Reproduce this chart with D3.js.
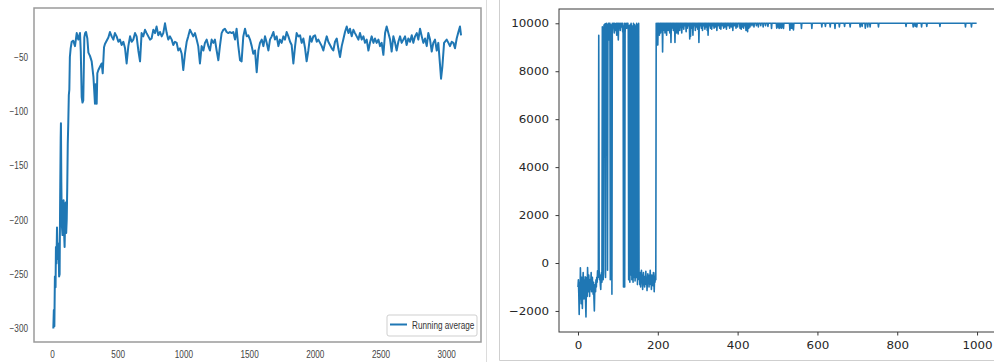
<!DOCTYPE html>
<html>
<head>
<meta charset="utf-8">
<script src="https://cdn.jsdelivr.net/npm/d3@7"></script>
<style>
  html, body { margin: 0; padding: 0; background: #fff; }
  svg { display: block; }
</style>
</head>
<body>
<svg id="chart" width="994" height="362"></svg>
<script>
// ---- Left panel: running average of episode reward, [episode, value] ----
const runningAverage = [
  [10,-300],[14,-283],[18,-298],[22,-252],[27,-262],[30,-225],[34,-240],[38,-207],[42,-228],[46,-236],
  [50,-222],[54,-252],[58,-250],[62,-180],[66,-125],[68,-111],[71,-165],[75,-205],[80,-214],[84,-208],
  [88,-182],[92,-212],[96,-225],[100,-200],[104,-184],[108,-212],[112,-200],[116,-170],[120,-130],[124,-110],
  [128,-85],[132,-80],[136,-50],[142,-42],[150,-36],[162,-35],[175,-40],[188,-28],[200,-34],[213,-28],
  [219,-45],[226,-87],[232,-92],[238,-90],[246,-32],[252,-28],[259,-27],[269,-33],[277,-46],[289,-49],
  [302,-54],[315,-68],[321,-80],[327,-93],[331,-75],[335,-80],[340,-93],[345,-65],[353,-62],[365,-59],
  [378,-56],[386,-65],[396,-41],[403,-38],[416,-35],[429,-32],[441,-27],[454,-31],[467,-34],[479,-28],
  [492,-31],[505,-36],[517,-34],[530,-39],[543,-36],[556,-42],[568,-56],[581,-40],[594,-31],[606,-36],
  [619,-34],[632,-28],[644,-31],[657,-44],[670,-54],[682,-28],[695,-31],[708,-25],[720,-28],[733,-31],
  [746,-34],[758,-33],[771,-25],[784,-28],[796,-22],[809,-30],[822,-27],[835,-31],[847,-28],[860,-19],
  [873,-28],[885,-34],[898,-31],[911,-34],[923,-39],[936,-36],[949,-37],[961,-44],[974,-42],[987,-47],
  [999,-62],[1012,-47],[1025,-36],[1037,-31],[1050,-25],[1063,-28],[1075,-31],[1088,-28],[1101,-34],[1113,-40],
  [1126,-56],[1139,-40],[1152,-44],[1164,-37],[1177,-34],[1190,-40],[1202,-44],[1215,-34],[1228,-37],[1240,-34],
  [1253,-44],[1266,-53],[1278,-40],[1291,-28],[1304,-25],[1316,-24],[1329,-27],[1342,-28],[1354,-27],[1367,-28],
  [1380,-27],[1393,-34],[1405,-24],[1418,-40],[1431,-53],[1443,-54],[1456,-31],[1469,-24],[1482,-31],[1494,-30],
  [1507,-34],[1520,-40],[1532,-47],[1545,-44],[1558,-64],[1571,-44],[1583,-37],[1596,-34],[1609,-40],[1621,-31],
  [1634,-37],[1647,-44],[1659,-34],[1672,-31],[1685,-27],[1697,-34],[1710,-31],[1723,-40],[1735,-34],[1748,-37],
  [1761,-31],[1773,-34],[1786,-27],[1799,-31],[1812,-36],[1824,-39],[1837,-56],[1850,-40],[1862,-28],[1875,-31],
  [1888,-30],[1900,-37],[1913,-33],[1926,-42],[1938,-54],[1951,-44],[1964,-31],[1976,-36],[1989,-31],[2002,-30],
  [2015,-36],[2027,-34],[2040,-37],[2053,-40],[2065,-44],[2078,-37],[2091,-31],[2103,-36],[2116,-39],[2129,-42],
  [2141,-44],[2154,-36],[2167,-33],[2179,-42],[2192,-50],[2205,-40],[2217,-34],[2230,-27],[2243,-22],[2256,-28],
  [2268,-24],[2281,-31],[2294,-25],[2306,-28],[2319,-31],[2332,-34],[2344,-28],[2357,-34],[2370,-31],[2382,-37],
  [2395,-34],[2408,-44],[2420,-37],[2433,-31],[2446,-37],[2458,-33],[2471,-37],[2484,-34],[2497,-40],[2509,-37],
  [2522,-48],[2535,-28],[2547,-22],[2560,-28],[2573,-34],[2585,-45],[2598,-31],[2611,-37],[2623,-44],[2636,-36],
  [2649,-31],[2661,-37],[2674,-34],[2687,-31],[2699,-39],[2712,-33],[2725,-36],[2738,-30],[2750,-37],[2763,-31],
  [2776,-28],[2788,-34],[2801,-24],[2814,-31],[2826,-37],[2839,-33],[2852,-40],[2864,-28],[2877,-34],[2890,-45],
  [2902,-37],[2915,-34],[2928,-44],[2940,-37],[2953,-57],[2961,-70],[2971,-59],[2984,-37],[3004,-34],[3017,-37],
  [3029,-40],[3042,-36],[3055,-37],[3067,-42],[3080,-33],[3093,-27],[3105,-22],[3113,-30]
];
const leftXTicks = [0, 500, 1000, 1500, 2000, 2500, 3000];
const leftYTicks = [-300, -250, -200, -150, -100, -50];
const legendLabel = "Running average";

// ---- Right panel: reward per episode (episodes 0..999) ----
const episodeReward = [
  // 0
  -1000,-700,-1300,-2150,-800,-1500,-200,-900,-1700,-600,-1200,-1900,-800,-400,-1100,-1500,-700,-1250,-580,-1600,
  // 20
  -2250,-1000,-600,-1400,-190,-800,-1200,-500,-900,-1400,-700,-1100,-800,-400,-1200,-900,-600,-1000,-1300,-800,
  // 40
  -1500,-2000,-1100,-900,-1200,-700,-1000,-600,-800,-320,-600,-400,9500,-300,-700,-500,-900,-1100,-600,-400,
  // 60
  -800,9850,-500,-700,-400,9900,9950,9700,9980,-600,9900,10000,9600,9950,-300,9800,10000,9300,10000,9900,
  // 80
  10000,-700,9950,9700,9900,-1300,10000,9950,9900,10000,9800,9600,10000,9950,9700,9900,10000,9500,9850,10000,
  // 100
  9900,9300,10000,9800,9950,10000,9700,9900,10000,9850,9950,10000,9640,9900,-1000,9700,10000,-1000,9600,9900,
  // 120
  10000,9950,9800,10000,9900,10000,9700,-700,9900,-600,-800,9950,-500,10000,9800,-700,-450,9900,-800,10000,
  // 140
  -600,9700,9950,-750,-400,9900,-600,10000,9800,-900,9950,-500,10000,-700,-600,-900,-400,-1000,-700,-300,
  // 160
  -800,-500,-1100,-650,-400,-900,-700,-1000,-550,-800,-350,-900,-600,-1150,-700,-450,-850,-600,-1000,-500,
  // 180
  -750,-300,-900,-650,-1100,-500,-800,-600,-950,-400,-700,-1200,-550,-800,-400,-700,10000,9900,9100,10000,
  // 200
  9100,10000,9800,10000,9500,9900,10000,9600,10000,9850,10000,10000,8800,10000,9700,10000,9900,10000,9600,10000,
  // 220
  9800,10000,9500,10000,9900,10000,9700,10000,9850,10000,9600,10000,10000,9200,10000,9800,10000,9900,10000,9700,
  // 240
  10000,9850,10000,9200,10000,9800,10000,9600,10000,9900,10000,9550,10000,9800,10000,9700,10000,10000,9900,10000,
  // 260
  9600,10000,9850,10000,10000,9750,10000,10000,9900,10000,10000,9650,10000,10000,9800,10000,10000,9900,10000,10000,
  // 280
  9350,10000,9450,10000,10000,9800,10000,10000,9500,10000,10000,9900,10000,10000,9700,10000,10000,9850,10000,10000,
  // 300
  9750,10000,10000,9200,10000,10000,9900,10000,10000,9800,10000,10000,9700,10000,10000,9900,10000,10000,9750,10000,
  // 320
  10000,9850,10000,10000,9700,10000,9500,10000,10000,9900,10000,10000,9800,10000,10000,9750,10000,10000,9900,10000,
  // 340
  10000,9800,10000,10000,9850,10000,10000,10000,9700,10000,10000,9900,10000,10000,10000,9800,10000,10000,9750,10000,
  // 360
  10000,10000,9900,10000,10000,9800,10000,10000,9850,10000,10000,10000,9750,10000,10000,10000,9900,10000,10000,10000,
  // 380
  9800,10000,10000,10000,9850,10000,10000,10000,9700,10000,10000,10000,9900,10000,10000,10000,9800,10000,10000,10000,
  // 400
  9850,10000,10000,10000,10000,10000,9800,10000,10000,9750,10000,10000,9850,10000,10000,9800,10000,10000,9900,10000,
  // 420
  10000,9700,10000,10000,10000,9650,10000,10000,9800,10000,10000,9850,10000,10000,10000,10000,9900,10000,10000,10000,
  // 440
  10000,9850,10000,10000,10000,10000,10000,9900,10000,10000,10000,10000,9850,10000,10000,10000,10000,10000,9900,10000,
  // 460
  10000,10000,10000,10000,9850,10000,10000,10000,10000,10000,9900,10000,10000,10000,10000,10000,9870,10000,10000,10000,
  // 480
  10000,10000,10000,10000,10000,9780,10000,10000,10000,10000,10000,10000,10000,10000,10000,10000,10000,10000,9800,10000,
  // 500
  10000,9850,10000,10000,9780,10000,10000,9820,10000,10000,9800,10000,10000,9850,10000,9780,10000,10000,10000,10000,
  // 520
  10000,10000,10000,10000,10000,10000,10000,10000,10000,10000,10000,9710,10000,10000,9800,10000,10000,9780,10000,10000,
  // 540
  9720,10000,10000,10000,10000,10000,10000,10000,10000,10000,10000,10000,10000,10000,10000,10000,10000,10000,10000,10000,
  // 560
  9780,10000,10000,10000,10000,10000,10000,10000,10000,10000,10000,10000,10000,10000,10000,10000,10000,10000,10000,10000,
  // 580
  10000,10000,10000,10000,10000,10000,9780,10000,10000,10000,10000,10000,10000,10000,10000,10000,10000,10000,10000,10000,
  // 600
  10000,10000,10000,10000,10000,10000,10000,10000,10000,10000,10000,9850,10000,10000,10000,10000,10000,10000,10000,10000,
  // 620
  9870,10000,10000,10000,10000,10000,10000,10000,10000,10000,10000,10000,9850,10000,10000,10000,10000,10000,10000,10000,
  // 640
  10000,10000,10000,10000,9780,10000,10000,10000,10000,10000,10000,10000,10000,10000,10000,9850,10000,10000,10000,10000,
  // 660
  10000,10000,10000,10000,10000,10000,10000,10000,9870,10000,10000,10000,10000,10000,10000,10000,10000,10000,10000,10000,
  // 680
  10000,10000,9850,10000,10000,10000,10000,10000,10000,10000,10000,10000,10000,10000,10000,10000,10000,10000,10000,10000,
  // 700
  10000,10000,10000,10000,10000,10000,10000,9850,10000,10000,10000,10000,9870,10000,10000,10000,10000,10000,10000,10000,
  // 720
  9800,10000,10000,10000,10000,10000,9850,10000,10000,10000,10000,10000,9850,10000,10000,10000,10000,10000,10000,10000,
  // 740
  10000,10000,10000,10000,10000,10000,10000,10000,10000,10000,10000,10000,10000,9850,10000,10000,10000,10000,10000,10000,
  // 760
  10000,10000,10000,10000,10000,10000,10000,10000,10000,10000,10000,10000,10000,10000,10000,10000,10000,10000,10000,10000,
  // 780
  10000,10000,10000,10000,10000,10000,10000,10000,10000,10000,10000,10000,10000,10000,10000,10000,10000,10000,10000,10000,
  // 800
  10000,10000,10000,10000,10000,10000,10000,10000,10000,10000,10000,10000,10000,10000,10000,10000,10000,10000,10000,10000,
  // 820
  10000,10000,9870,10000,10000,10000,10000,10000,10000,10000,10000,10000,10000,10000,10000,10000,10000,10000,10000,10000,
  // 840
  9850,10000,10000,10000,10000,9870,10000,10000,10000,9850,10000,10000,10000,10000,10000,10000,10000,10000,10000,10000,
  // 860
  10000,9850,10000,10000,10000,10000,10000,10000,10000,10000,10000,10000,10000,10000,9870,10000,10000,10000,10000,10000,
  // 880
  10000,10000,10000,10000,10000,10000,10000,10000,10000,10000,10000,10000,10000,10000,10000,10000,10000,10000,10000,10000,
  // 900
  10000,10000,10000,10000,10000,10000,10000,9870,10000,10000,10000,10000,10000,10000,10000,10000,10000,10000,10000,10000,
  // 920
  10000,10000,10000,10000,10000,10000,10000,10000,10000,10000,10000,10000,10000,10000,10000,10000,10000,10000,10000,10000,
  // 940
  10000,10000,10000,10000,10000,10000,10000,10000,10000,10000,10000,10000,10000,10000,10000,10000,10000,10000,10000,10000,
  // 960
  10000,10000,10000,10000,10000,10000,10000,10000,10000,10000,10000,9850,10000,10000,10000,10000,10000,10000,10000,10000,
  // 980
  10000,10000,10000,10000,10000,10000,9850,10000,10000,10000,10000,10000,10000,10000,10000,10000,10000,10000,10000,10000
];
const rightXTicks = [0, 200, 400, 600, 800, 1000];
const rightYTicks = [-2000, 0, 2000, 4000, 6000, 8000, 10000];

const blue = "#1f77b4";
const svg = d3.select("#chart");

// ---------------- left panel ----------------
const L = { left: 34, right: 481, top: 8, bottom: 342 };
const lx = d3.scaleLinear().domain([-137, 3265]).range([L.left, L.right]);
const ly = d3.scaleLinear().domain([-312.4, -4.9]).range([L.bottom, L.top]);
const squeeze = 0.82;
const leftFont = "'Liberation Sans', Arial, sans-serif";

const left = svg.append("g");

left.append("path")
  .datum(runningAverage)
  .attr("fill", "none")
  .attr("stroke", blue)
  .attr("stroke-width", 2)
  .attr("stroke-linejoin", "round")
  .attr("d", d3.line().x(d => lx(d[0])).y(d => ly(d[1])));

left.append("rect")
  .attr("x", L.left).attr("y", L.top)
  .attr("width", L.right - L.left).attr("height", L.bottom - L.top)
  .attr("fill", "none").attr("stroke", "#9a9a9a").attr("stroke-width", 1.5);

const lxAxis = left.append("g")
  .attr("transform", `translate(0,${L.bottom})`)
  .call(d3.axisBottom(lx).tickValues(leftXTicks).tickSize(0).tickPadding(9).tickFormat(d3.format("d")));
lxAxis.select(".domain").remove();
lxAxis.selectAll("text")
  .attr("font-family", leftFont).attr("font-size", 10).attr("fill", "#444")
  .attr("transform", `scale(${squeeze},1)`);

const lyAxis = left.append("g")
  .attr("transform", `translate(${L.left},0)`)
  .call(d3.axisLeft(ly).tickValues(leftYTicks).tickSize(0).tickFormat(d3.format("d")));
lyAxis.select(".domain").remove();
lyAxis.selectAll("text")
  .attr("font-family", leftFont).attr("font-size", 10).attr("fill", "#444")
  .attr("x", -6 / squeeze)
  .attr("transform", `scale(${squeeze},1)`);

// legend
const lg = left.append("g").attr("transform", "translate(387,315)");
lg.append("rect").attr("width", 90).attr("height", 21).attr("rx", 2)
  .attr("fill", "#fff").attr("stroke", "#cfcfcf").attr("stroke-width", 1);
lg.append("line").attr("x1", 3).attr("x2", 20).attr("y1", 9.5).attr("y2", 9.5)
  .attr("stroke", blue).attr("stroke-width", 2);
lg.append("text")
  .attr("transform", `translate(25,13.5) scale(${squeeze},1)`)
  .attr("font-family", leftFont).attr("font-size", 10).attr("fill", "#333")
  .text(legendLabel);

// panel separators
svg.append("line").attr("x1", 486.5).attr("x2", 486.5).attr("y1", 0).attr("y2", 362)
  .attr("stroke", "#dcdcdc").attr("stroke-width", 1);
svg.append("path").attr("d", "M499.5,0V360.5H994")
  .attr("fill", "none").attr("stroke", "#cfcfcf").attr("stroke-width", 1);

// ---------------- right panel ----------------
const R = { left: 559, right: 997, top: 9, bottom: 332 };
const rx = d3.scaleLinear().domain([-47.6, 1050]).range([R.left, R.right]);
const ry = d3.scaleLinear().domain([-2878, 10596]).range([R.bottom, R.top]);
const stretch = 1.08;
const rightFont = "'DejaVu Sans', sans-serif";

const right = svg.append("g");

right.append("path")
  .datum(episodeReward)
  .attr("fill", "none")
  .attr("stroke", blue)
  .attr("stroke-width", 1.6)
  .attr("stroke-linejoin", "round")
  .attr("d", d3.line().x((d, i) => rx(i)).y(d => ry(d)));

right.append("rect")
  .attr("x", R.left).attr("y", R.top)
  .attr("width", R.right - R.left).attr("height", R.bottom - R.top)
  .attr("fill", "none").attr("stroke", "#3a3a3a").attr("stroke-width", 1);

const rxAxis = right.append("g")
  .attr("transform", `translate(0,${R.bottom})`)
  .call(d3.axisBottom(rx).tickValues(rightXTicks).tickSize(3.5).tickPadding(6).tickFormat(d3.format("d")));
rxAxis.select(".domain").remove();
rxAxis.selectAll("line").attr("stroke", "#3a3a3a");
rxAxis.selectAll("text")
  .attr("font-family", rightFont).attr("font-size", 11).attr("fill", "#262626")
  .attr("transform", `scale(${stretch},1)`);

const ryAxis = right.append("g")
  .attr("transform", `translate(${R.left},0)`)
  .call(d3.axisLeft(ry).tickValues(rightYTicks).tickSize(3.5).tickFormat(d3.format("d")));
ryAxis.select(".domain").remove();
ryAxis.selectAll("line").attr("stroke", "#3a3a3a");
ryAxis.selectAll("text")
  .attr("font-family", rightFont).attr("font-size", 11).attr("fill", "#262626")
  .attr("x", -10 / stretch)
  .attr("transform", `scale(${stretch},1)`);
</script>
</body>
</html>
